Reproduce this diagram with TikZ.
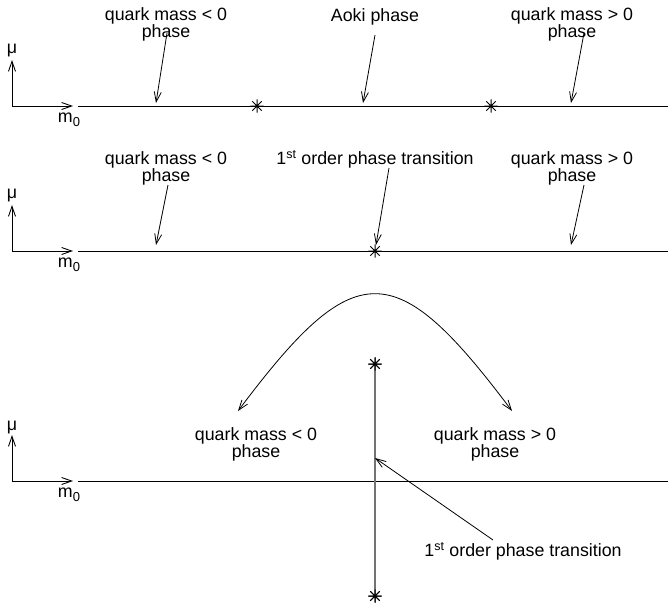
\documentclass[tikz,border=0pt]{standalone}
\usepackage{fontspec}
\setmainfont{Liberation Sans}
\usetikzlibrary{arrows.meta}
\newcommand{\msub}{m\raisebox{-0.4ex}{\fontsize{13}{13}\selectfont 0}}
\begin{document}
\begin{tikzpicture}[x=1pt,y=-1pt,
  lbl/.style={inner sep=0pt, align=center, font=\fontsize{17.8}{17}\selectfont},
  axline/.style={line width=0.9pt},
  axarrow/.style={line width=0.9pt, -{Straight Barb[length=10pt,width=7pt]}},
  ptr/.style={line width=0.8pt, -{Straight Barb[length=10pt,width=7pt]}},
  dptr/.style={line width=0.8pt, {Straight Barb[length=10pt,width=7pt]}-{Straight Barb[length=10pt,width=7pt]}},
  critline/.style={line width=2pt, black!55},
  starmark/.style={inner sep=0pt, minimum size=14pt,
    path picture={\draw[line width=1pt, shift={(path picture bounding box.center)}]
      (90:6.7pt) -- (270:6.7pt) (0:6.7pt) -- (180:6.7pt)
      (45:6.7pt) -- (225:6.7pt) (135:6.7pt) -- (315:6.7pt);}}
]
\useasboundingbox (0,0) rectangle (668,608);

% ---------------- panel 1 ----------------
\coordinate (o1) at (12,106);
\coordinate (mu1) at (12,60);
\coordinate (m1) at (73,106);
\coordinate (h1s) at (78,106);
\coordinate (h1e) at (668,106);
\draw[axarrow] (o1) -- (mu1);
\draw[axarrow] (o1) -- (m1);
\draw[axline] (h1s) -- (h1e);
\node[lbl] (mul1) at (12,51) {μ};
\node[lbl] (m0l1) at (69,120) {\msub};
\node[starmark] (s1a) at (257,106) {};
\node[starmark] (s1b) at (491,106) {};
\node[lbl] (q1a) at (166,24) {quark mass < 0\\phase};
\node[lbl] (aoki) at (375,17) {Aoki phase};
\node[lbl] (q1b) at (572,24) {quark mass > 0\\phase};
\coordinate (t1a) at (167,33); \coordinate (e1a) at (156,103);
\coordinate (t1b) at (375,35); \coordinate (e1b) at (363,103);
\coordinate (t1c) at (584,33); \coordinate (e1c) at (571,103);
\draw[ptr] (t1a) -- (e1a);
\draw[ptr] (t1b) -- (e1b);
\draw[ptr] (t1c) -- (e1c);

% ---------------- panel 2 ----------------
\coordinate (o2) at (12,251);
\coordinate (mu2) at (12,205);
\coordinate (m2) at (73,251);
\coordinate (h2s) at (78,251);
\coordinate (h2e) at (668,251);
\draw[axarrow] (o2) -- (mu2);
\draw[axarrow] (o2) -- (m2);
\draw[axline] (h2s) -- (h2e);
\node[lbl] (mul2) at (12,196) {μ};
\node[lbl] (m0l2) at (69,265) {\msub};
\node[starmark] (s2) at (375,251) {};
\node[lbl] (q2a) at (166,168) {quark mass < 0\\phase};
\node[lbl] (tr2) at (375,159) {1\textsuperscript{st} order phase transition};
\node[lbl] (q2b) at (572,168) {quark mass > 0\\phase};
\coordinate (t2a) at (168,185); \coordinate (e2a) at (156,245);
\coordinate (t2b) at (389,168); \coordinate (e2b) at (376,245);
\coordinate (t2c) at (584,185); \coordinate (e2c) at (571,245);
\draw[ptr] (t2a) -- (e2a);
\draw[ptr] (t2b) -- (e2b);
\draw[ptr] (t2c) -- (e2c);

% ---------------- panel 3 ----------------
\coordinate (o3) at (12,481);
\coordinate (mu3) at (12,435);
\coordinate (m3) at (73,481);
\coordinate (h3s) at (78,481);
\coordinate (h3e) at (668,481);
\draw[axarrow] (o3) -- (mu3);
\draw[axarrow] (o3) -- (m3);
\draw[axline] (h3s) -- (h3e);
\node[lbl] (mul3) at (12,427) {μ};
\node[lbl] (m0l3) at (69,495) {\msub};
\node[starmark] (s3a) at (375,364) {};
\node[starmark] (s3b) at (375,596) {};
\draw[critline] (s3a.center) -- (s3b.center);
\node[starmark] at (375,364) {};
\node[starmark] at (375,596) {};
\coordinate (cl) at (238,411);
\coordinate (cr) at (512,411);
\draw[dptr] (cl) .. controls (355,255) and (395,255) .. (cr);
\node[lbl] (q3a) at (256,444) {quark mass < 0\\phase};
\node[lbl] (q3b) at (495,444) {quark mass > 0\\phase};
\node[lbl] (tr3) at (523,551) {1\textsuperscript{st} order phase transition};
\coordinate (t3) at (493,540); \coordinate (e3) at (375,458);
\draw[ptr] (t3) -- (e3);
\end{tikzpicture}
\end{document}
